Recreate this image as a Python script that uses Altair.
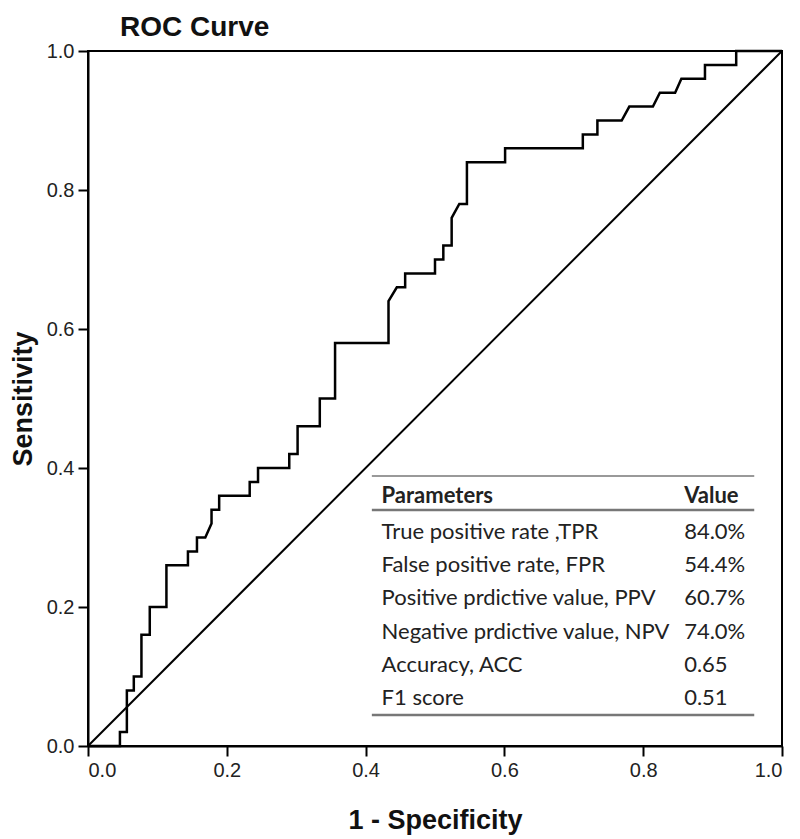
import altair as alt
import pandas as pd

# ROC curve vertices (1 - specificity, sensitivity)
fpr = [0.0, 0.046, 0.046, 0.056, 0.056, 0.066, 0.066, 0.077, 0.077, 0.089, 0.089,
       0.113, 0.113, 0.144, 0.144, 0.157, 0.157, 0.169, 0.178, 0.178, 0.189, 0.189,
       0.233, 0.233, 0.245, 0.245, 0.290, 0.290, 0.302, 0.302, 0.334, 0.334, 0.356,
       0.356, 0.433, 0.433, 0.445, 0.457, 0.457, 0.500, 0.500, 0.512, 0.512, 0.524,
       0.524, 0.535, 0.546, 0.546, 0.601, 0.601, 0.713, 0.713, 0.734, 0.734, 0.769,
       0.780, 0.814, 0.824, 0.846, 0.855, 0.889, 0.889, 0.934, 0.934, 1.0]
tpr = [0.0, 0.0, 0.02, 0.02, 0.08, 0.08, 0.10, 0.10, 0.16, 0.16, 0.20,
       0.20, 0.26, 0.26, 0.28, 0.28, 0.30, 0.30, 0.32, 0.34, 0.34, 0.36,
       0.36, 0.38, 0.38, 0.40, 0.40, 0.42, 0.42, 0.46, 0.46, 0.50, 0.50,
       0.58, 0.58, 0.64, 0.66, 0.66, 0.68, 0.68, 0.70, 0.70, 0.72, 0.72,
       0.76, 0.78, 0.78, 0.84, 0.84, 0.86, 0.86, 0.88, 0.88, 0.90, 0.90,
       0.92, 0.92, 0.94, 0.94, 0.96, 0.96, 0.98, 0.98, 1.0, 1.0]

params = ["True positive rate ,TPR", "False positive rate, FPR",
          "Positive prdictive value, PPV", "Negative prdictive value, NPV",
          "Accuracy, ACC", "F1 score"]
values = ["84.0%", "54.4%", "60.7%", "74.0%", "0.65", "0.51"]

chart_title = "ROC Curve"

curve = pd.DataFrame({"fpr": fpr, "tpr": tpr, "order": list(range(len(fpr)))})
diag = pd.DataFrame({"fpr": [0.0, 1.0], "tpr": [0.0, 1.0]})

# table layout (data units)
col_param = 0.423
col_value = 0.859
row0 = 0.2978
step = 0.0478
tab = pd.DataFrame({
    "param": params,
    "value": values,
    "xp": [col_param] * len(params),
    "xv": [col_value] * len(params),
    "y": [row0 - i * step for i in range(len(params))],
})
header = pd.DataFrame({"param": ["Parameters"], "value": ["Value"],
                       "xp": [col_param], "xv": [col_value], "y": [0.3496]})
rules = pd.DataFrame({"x": [0.409, 0.409, 0.409], "x2": [0.96, 0.96, 0.96],
                      "y": [0.3885, 0.3396, 0.0446], "w": [1.5, 2.5, 2.5]})
title_df = pd.DataFrame({"t": [chart_title], "x": [0.046], "y": [1.0216]})

xs = alt.Scale(domain=[0, 1], nice=False)
ys = alt.Scale(domain=[0, 1], nice=False)
ticks = [0, 0.2, 0.4, 0.6, 0.8, 1.0]

x_axis = alt.Axis(title="1 - Specificity", values=ticks, format=".1f", grid=False,
                  titleBaseline="alphabetic", titleY=82)
y_axis = alt.Axis(title="Sensitivity", values=ticks, format=".1f", grid=False,
                  titleBaseline="alphabetic", titleX=-57, titleAngle=-90)

base_line = alt.Chart(curve).mark_line(color="black", strokeWidth=2.5).encode(
    x=alt.X("fpr:Q", scale=xs, axis=x_axis),
    y=alt.Y("tpr:Q", scale=ys, axis=y_axis),
    order="order:Q",
)
diag_line = alt.Chart(diag).mark_line(color="black", strokeWidth=2).encode(
    x=alt.X("fpr:Q", scale=xs), y=alt.Y("tpr:Q", scale=ys)
)
frame = alt.Chart(diag).mark_rect(fill=None, stroke="black", strokeWidth=2).encode(
    x=alt.datum(0, scale=xs), x2=alt.datum(1), y=alt.datum(0, scale=ys), y2=alt.datum(1)
)
rule_layer = alt.Chart(rules).mark_rule(color="#777").encode(
    x=alt.X("x:Q", scale=xs), x2="x2:Q", y=alt.Y("y:Q", scale=ys),
    strokeWidth=alt.StrokeWidth("w:Q", scale=None, legend=None),
)
txt_kw = dict(font="Lato", fontSize=22, align="left", baseline="alphabetic", color="#222")
p_text = alt.Chart(tab).mark_text(**txt_kw).encode(
    x=alt.X("xp:Q", scale=xs), y=alt.Y("y:Q", scale=ys), text="param:N")
v_text = alt.Chart(tab).mark_text(**txt_kw).encode(
    x=alt.X("xv:Q", scale=xs), y=alt.Y("y:Q", scale=ys), text="value:N")
h_text = alt.Chart(header).mark_text(fontWeight="bold", **txt_kw).encode(
    x=alt.X("xp:Q", scale=xs), y=alt.Y("y:Q", scale=ys), text="param:N")
hv_text = alt.Chart(header).mark_text(fontWeight="bold", **txt_kw).encode(
    x=alt.X("xv:Q", scale=xs), y=alt.Y("y:Q", scale=ys), text="value:N")
title_text = alt.Chart(title_df).mark_text(
    font="Liberation Sans", fontSize=28, fontWeight="bold", color="#111",
    align="left", baseline="alphabetic").encode(
    x=alt.X("x:Q", scale=xs), y=alt.Y("y:Q", scale=ys), text="t:N")

chart = alt.layer(base_line, diag_line, frame, rule_layer, p_text, v_text, h_text,
                  hv_text, title_text).properties(
    width=694, height=695,
    background="white",
    autosize=alt.AutoSizeParams(type="none"),
    padding={"left": 80, "top": 43, "right": 10, "bottom": 90},
).configure_view(stroke=None).configure_axis(
    domainColor="black", domainWidth=2, tickColor="black", tickWidth=2, tickSize=10,
    labelFont="Liberation Sans", labelFontSize=20, labelColor="#222", labelPadding=4,
    titleFont="Liberation Sans", titleFontSize=27, titleFontWeight="bold", titleColor="#111",
)

chart.save("out.html", embed_options={"renderer": "svg", "actions": False})
